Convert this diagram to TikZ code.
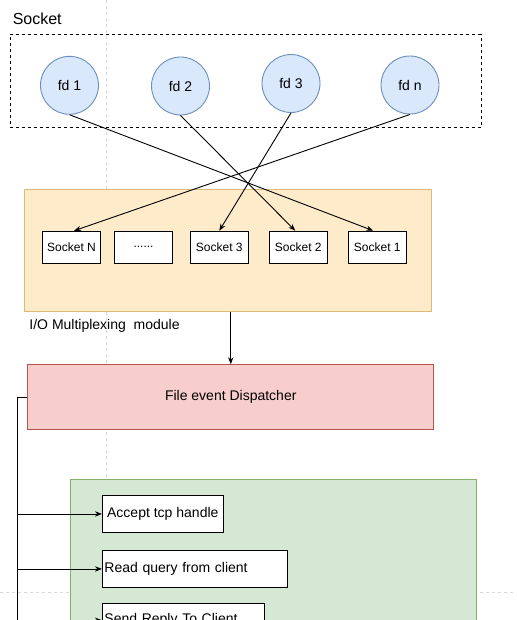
\documentclass[tikz,border=0pt]{standalone}
\usepackage{fontspec}
\setmainfont{Liberation Sans}
\usetikzlibrary{arrows.meta}
\definecolor{fdfill}{HTML}{DAE8FC}
\definecolor{fdline}{HTML}{6C8EBF}
\definecolor{iofill}{HTML}{FDEBC9}
\definecolor{ioline}{HTML}{DDBB77}
\definecolor{dpfill}{HTML}{F8CECC}
\definecolor{dpline}{HTML}{B85450}
\definecolor{hdfill}{HTML}{D5E8D4}
\definecolor{hdline}{HTML}{82B366}
\begin{document}
\begin{tikzpicture}[x=1pt,y=-1pt,>=Stealth,line width=0.9pt,
    fd/.style={circle,draw=fdline,fill=fdfill,minimum size=58pt,inner sep=0pt,font=\fontsize{14}{16}\selectfont},
    sock/.style={draw,fill=white,minimum width=58pt,minimum height=32pt,inner sep=0pt,font=\fontsize{12}{14}\selectfont},
    area/.style={anchor=north west,inner sep=0pt,font=\fontsize{14}{16}\selectfont},
    task/.style={draw,fill=white,anchor=north west,inner xsep=2pt,inner ysep=0pt,font=\fontsize{14}{16}\selectfont}]
  \path[use as bounding box,clip] (0,0) rectangle (516,620);
  % page guides
  \draw[gray!30,dashed,line width=0.5pt] (106.5,0) -- (106.5,480);
  \draw[gray!30,dashed,line width=0.5pt] (0,592) -- (516,592);

  \node[anchor=west,inner sep=0pt,font=\fontsize{16}{18}\selectfont] (socklbl) at (12.3,18.3) {Socket};
  \node[area,draw,dashed,minimum width=471pt,minimum height=93.5pt] (sockets) at (9.5,34) {};
  \node[fd] (fd1) at (69.5,85.3) {fd 1};
  \node[fd] (fd2) at (180.5,86) {fd 2};
  \node[fd] (fd3) at (291,83.5) {fd 3};
  \node[fd] (fdn) at (410,85) {fd n};

  \node[area,draw=ioline,fill=iofill,minimum width=406.4pt,minimum height=122pt] (io) at (24.3,189) {};
  \node[sock] (sN) at (71.5,247.2) {Socket N};
  \node[sock] (sdots) at (143.5,247.2) {......};
  \node[sock] (s3) at (219.3,247.2) {Socket 3};
  \node[sock] (s2) at (298.3,247.2) {Socket 2};
  \node[sock] (s1) at (377.3,247.2) {Socket 1};
  \node[anchor=west,inner sep=0pt,font=\fontsize{14}{16}\selectfont] (iolbl) at (29,325.7) {I/O Multiplexing\ \ module};

  \draw[->] (fd1.south) -- ([xshift=-4pt]s1.north);
  \draw[->] (fd2.south) -- ([xshift=-3pt]s2.north);
  \draw[->] (fd3.south) -- (s3.north);
  \draw[->] (fdn.south) -- ([xshift=2.5pt]sN.north);

  \node[area,draw=dpline,fill=dpfill,minimum width=406pt,minimum height=65pt] (disp) at (27.3,364.3) {};
  \node[font=\fontsize{14}{16}\selectfont] (disptxt) at (disp.center) {File event Dispatcher};
  \draw[->] (io.south -| disp.north) -- (disp.north);

  \node[area,draw=hdline,fill=hdfill,minimum width=405.4pt,minimum height=200pt] (handlers) at (70.3,479.3) {};
  \node[task,minimum width=120.7pt,minimum height=36.4pt] (accept) at (102,495.3) {Accept tcp handle};
  \node[task,text width=181.3pt,align=left,minimum height=36.4pt] (read) at (102,550.3) {Read query from client};
  \node[task,text width=158.3pt,align=left,minimum height=33pt] (send) at (102,603.3) {Send Reply To Client};

  \coordinate (bus) at ([xshift=-10pt]disp.west);
  \draw (disp.west) -- (bus) -- (bus |- send.west);
  \draw[->] (bus |- accept.west) -- (accept.west);
  \draw[->] (bus |- read.west) -- (read.west);
  \draw[->] (bus |- send.west) -- (send.west);
\end{tikzpicture}
\end{document}
